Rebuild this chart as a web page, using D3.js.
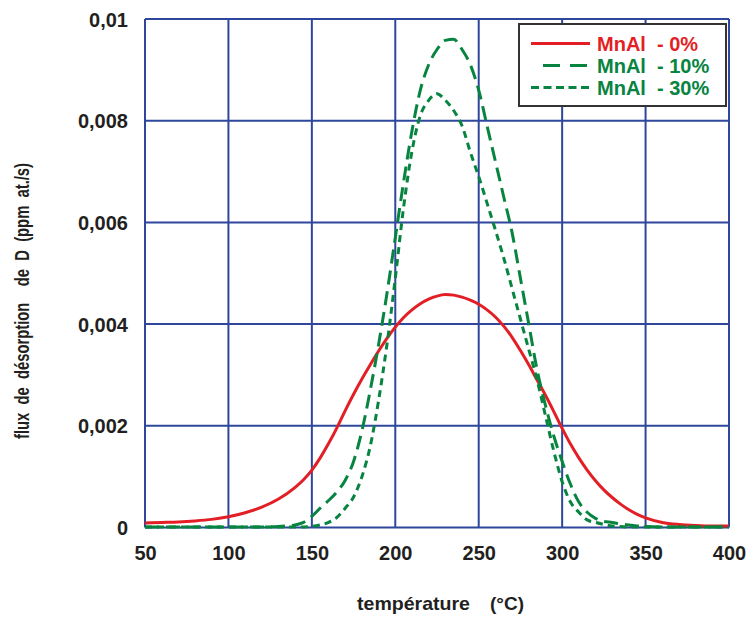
<!DOCTYPE html>
<html><head><meta charset="utf-8">
<script src="https://cdn.jsdelivr.net/npm/d3@7"></script>
<style>
html,body{margin:0;padding:0;background:#fff;}
svg{display:block;}
text{font-family:"Liberation Sans",Arial,sans-serif;font-weight:bold;fill:#231f20;}
</style></head>
<body>
<svg id="chart" width="749" height="619"></svg>
<script>
// ---- data ----
const temperatures = [50,60,70,80,90,100,110,120,130,140,
  145,150,155,160,165,170,175,180,185,190,195,200,205,210,215,220,225,230,235,240,
  245,250,255,260,265,270,275,280,285,290,295,300,305,310,315,320,325,330,335,340,345,350,
  360,370,380,390,400];
const mnal0 = [0.00009,0.0001,0.00011,0.00013,0.00016,0.00021,0.00029,0.0004,0.00056,0.00079,
  0.00094,0.00113,0.00137,0.00165,0.00196,0.0023,0.00262,0.00292,0.0032,0.00347,0.00372,0.00394,0.00413,0.00428,0.0044,0.00449,0.00455,0.00458,0.00457,0.00453,
  0.00447,0.00439,0.00428,0.00414,0.00396,0.00374,0.00348,0.0032,0.0029,0.0026,0.00228,0.00195,0.00164,0.00137,0.00113,0.00092,0.00074,0.00059,0.00046,0.00035,0.00026,0.00019,
  0.0001,0.00006,0.00004,0.00003,0.00003];
const mnal10 = [0.00001,0.00001,0.00001,0.00001,0.00001,0.00001,0.00001,0.00001,0.00002,0.00005,
  0.0001,0.00022,0.00038,0.00053,0.0007,0.00093,0.0013,0.0019,0.0027,0.0036,0.0046,0.0057,0.0068,0.0078,0.0086,0.0091,0.0094,0.00958,0.0096,0.0094,
  0.0091,0.0086,0.0079,0.0072,0.0065,0.0058,0.0049,0.004,0.0031,0.0024,0.0018,0.0013,0.00085,0.0005,0.0003,0.00018,0.00012,0.0001,0.00007,0.00005,0.00003,0.00002,
  0.00001,0.00001,0.00001,0.00001,0.00001];
const mnal30 = [0.00001,0.00001,0.00001,0.00001,0.00001,0.00001,0.00001,0.00001,0.00001,0.00001,
  0.00001,0.00002,0.00005,0.0001,0.0002,0.00038,0.0006,0.001,0.0016,0.0025,0.0036,0.0049,0.0063,0.0074,0.0081,0.0084,0.00853,0.0084,0.0082,0.0079,
  0.00738,0.0069,0.00638,0.00585,0.0053,0.0047,0.0041,0.0035,0.0029,0.0022,0.0015,0.0009,0.0005,0.0003,0.00015,0.0001,0.00006,0.00003,0.00002,0.00001,0.00001,0.00001,
  0.00001,0.00001,0.00001,0.00001,0.00001];
const xTicks = [50,100,150,200,250,300,350,400];
const yTicks = [0,0.002,0.004,0.006,0.008,0.01];
const yTickLabels = ["0","0,002","0,004","0,006","0,008","0,01"];
const seriesNames = ["MnAl  - 0%","MnAl  - 10%","MnAl  - 30%"];

// ---- layout ----
const svg = d3.select("#chart");
const m = {left:145, right:20, top:19, bottom:91.5};
const W = 749, H = 619;
const x = d3.scaleLinear().domain([50,400]).range([m.left, W-m.right]);
const y = d3.scaleLinear().domain([0,0.01]).range([H-m.bottom, m.top]);
const gridColor = "#2e479c";
const red = "#e31f26", green = "#07843f";
const FONT = '"Liberation Sans",Arial,sans-serif';

// grid
const g = svg.append("g");
g.selectAll(".vx").data(xTicks).enter().append("line")
  .attr("x1",d=>x(d)).attr("x2",d=>x(d)).attr("y1",y(0)).attr("y2",y(0.01))
  .attr("stroke",gridColor).attr("stroke-width",2);
g.selectAll(".hy").data(yTicks).enter().append("line")
  .attr("x1",x(50)).attr("x2",x(400)).attr("y1",d=>y(d)).attr("y2",d=>y(d))
  .attr("stroke",gridColor).attr("stroke-width",2);

// axes labels via d3 axes (lines hidden)
const xAxis = d3.axisBottom(x).tickValues(xTicks).tickSize(0).tickPadding(0).tickFormat(d3.format("d"));
const xa = svg.append("g").attr("transform",`translate(0,${y(0)})`).call(xAxis);
xa.select(".domain").remove();
xa.selectAll("text").attr("y",32).attr("dy",null).attr("font-size",20).attr("fill","#231f20")
  .style("font-family",FONT).style("font-weight","bold");

const yAxis = d3.axisLeft(y).tickValues(yTicks).tickSize(0).tickPadding(0).tickFormat((d,i)=>yTickLabels[i]);
const ya = svg.append("g").attr("transform",`translate(${m.left-17},0)`).call(yAxis);
ya.select(".domain").remove();
ya.selectAll("text").attr("x",0).attr("dy",null).attr("y",7).attr("font-size",20).attr("fill","#231f20")
  .style("font-family",FONT).style("font-weight","bold");

// curves
const line = vals => d3.line().x((d,i)=>x(temperatures[i])).y(d=>y(d)).curve(d3.curveMonotoneX)(vals);
svg.append("path").attr("d",line(mnal0)).attr("fill","none").attr("stroke",red).attr("stroke-width",3);
svg.append("path").attr("d",line(mnal10)).attr("fill","none").attr("stroke",green).attr("stroke-width",3)
  .attr("stroke-dasharray","14,7");
svg.append("path").attr("d",line(mnal30)).attr("fill","none").attr("stroke",green).attr("stroke-width",3)
  .attr("stroke-dasharray","7,5");

// legend
const lg = svg.append("g");
lg.append("rect").attr("x",519).attr("y",24).attr("width",207).attr("height",82)
  .attr("fill","#fff").attr("stroke","#333").attr("stroke-width",2);
const legendStyles = [
  {color:red, dash:null, x1:531},
  {color:green, dash:"17,10", x1:543},
  {color:green, dash:"8,4.5", x1:531}
];
const rowY = [43.5,65.5,87.5];
seriesNames.forEach((name,i)=>{
  lg.append("line").attr("x1",legendStyles[i].x1).attr("x2",590).attr("y1",rowY[i]).attr("y2",rowY[i])
    .attr("stroke",legendStyles[i].color).attr("stroke-width",3)
    .attr("stroke-dasharray",legendStyles[i].dash);
  lg.append("text").attr("x",597).attr("y",rowY[i]+7).attr("font-size",20)
    .style("fill",legendStyles[i].color)
    .attr("xml:space","preserve").style("white-space","pre").text(name);
});

// axis titles
const xt = svg.append("text").attr("y",610).attr("font-size",19);
xt.append("tspan").attr("x",357).attr("textLength",113).attr("lengthAdjust","spacingAndGlyphs").text("température");
xt.append("tspan").attr("x",490).text("(°C)");

svg.append("text").attr("transform","translate(29,301) rotate(-90)").attr("text-anchor","middle")
  .attr("font-size",20).attr("xml:space","preserve").style("white-space","pre")
  .attr("textLength",276).attr("lengthAdjust","spacingAndGlyphs")
  .text("flux  de  désorption    de  D  (ppm  at./s)");
</script>
</body></html>
